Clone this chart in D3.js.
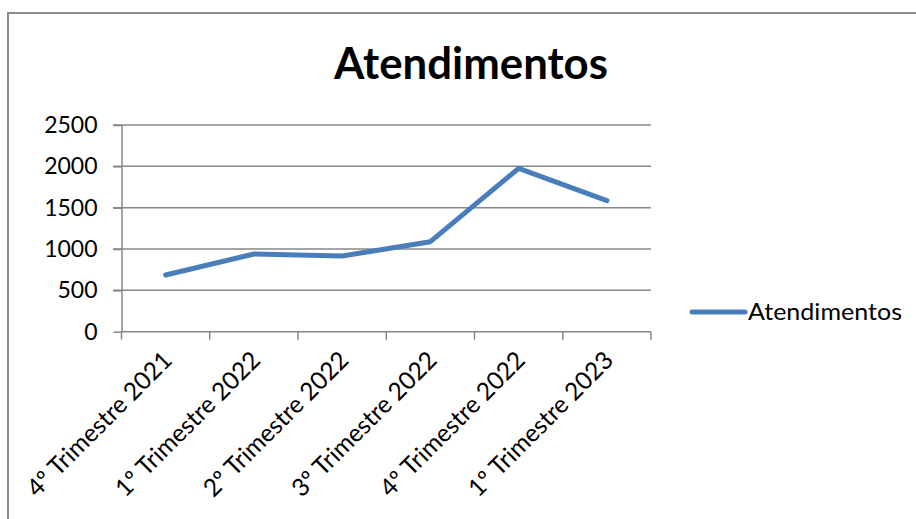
<!DOCTYPE html>
<html>
<head>
<meta charset="utf-8">
<script src="https://cdn.jsdelivr.net/npm/d3@7"></script>
<style>
  html, body { margin: 0; padding: 0; background: #fff; }
  svg { display: block; }
  text { font-family: Lato, "Open Sans", sans-serif; fill: #000; }
</style>
</head>
<body>
<svg id="chart" width="916" height="519"></svg>
<script>
// dados
const categories = [
  '4º Trimestre 2021', '1º Trimestre 2022', '2º Trimestre 2022',
  '3º Trimestre 2022', '4º Trimestre 2022', '1º Trimestre 2023'
];
const values = [686, 940, 915, 1089, 1976, 1585];
const yTicks = [0, 500, 1000, 1500, 2000, 2500];
const seriesName = 'Atendimentos';

const GRID = '#878787';
const BLUE = '#4a7ebb';

const svg = d3.select('#chart');

// moldura do gráfico
svg.append('rect')
  .attr('x', 8).attr('y', 13)
  .attr('width', 1000).attr('height', 600)
  .attr('fill', 'none')
  .attr('stroke', '#8c8c8c')
  .attr('stroke-width', 2);

// título
svg.append('text')
  .attr('x', 471).attr('y', 79)
  .attr('text-anchor', 'middle')
  .attr('font-size', 44)
  .attr('font-weight', 'bold')
  .attr('textLength', 274)
  .attr('lengthAdjust', 'spacingAndGlyphs')
  .text(seriesName);

// escalas
const x = d3.scaleBand().domain(categories).range([121.5, 651]);
const y = d3.scaleLinear().domain([0, 2500]).range([331.7, 125]);

// grade horizontal
svg.append('g')
  .selectAll('line')
  .data(yTicks.filter(d => d > 0))
  .join('line')
  .attr('x1', 113).attr('x2', 651)
  .attr('y1', d => y(d)).attr('y2', d => y(d))
  .attr('stroke', GRID)
  .attr('stroke-width', 1.5);

// eixo Y
const yAxis = svg.append('g')
  .attr('transform', `translate(${x.range()[0]},0)`)
  .call(d3.axisLeft(y).tickValues(yTicks).tickFormat(d3.format('d'))
    .tickSize(8).tickPadding(16).tickSizeOuter(0));
yAxis.select('.domain').attr('stroke', GRID).attr('stroke-width', 1.5);
yAxis.selectAll('.tick line').attr('stroke', GRID).attr('stroke-width', 1.5);
yAxis.selectAll('.tick text')
  .attr('font-family', 'Lato, sans-serif')
  .attr('font-size', 23)
  .attr('fill', '#000');

// eixo X (marcas nas fronteiras das categorias)
const xg = svg.append('g').attr('transform', `translate(0,${y(0)})`);
xg.append('line')
  .attr('x1', x.range()[0]).attr('x2', x.range()[1])
  .attr('stroke', GRID).attr('stroke-width', 1.5);
const bounds = categories.map(c => x(c)).concat([x.range()[1]]);
xg.selectAll('line.tk')
  .data(bounds)
  .join('line')
  .attr('class', 'tk')
  .attr('x1', d => d).attr('x2', d => d)
  .attr('y1', 0).attr('y2', 8)
  .attr('stroke', GRID).attr('stroke-width', 1.5);
xg.selectAll('text')
  .data(categories)
  .join('text')
  .attr('transform', d => `translate(${x(d) + x.bandwidth() / 2 + 8},${30}) rotate(-45)`)
  .attr('text-anchor', 'end')
  .attr('font-size', 24.5)
  .text(d => d);

// linha da série
const line = d3.line()
  .x((d, i) => x(categories[i]) + x.bandwidth() / 2)
  .y(d => y(d));
svg.append('path')
  .datum(values)
  .attr('d', line)
  .attr('fill', 'none')
  .attr('stroke', BLUE)
  .attr('stroke-width', 5)
  .attr('stroke-linejoin', 'round')
  .attr('stroke-linecap', 'round');

// legenda
const lg = svg.append('g').attr('transform', 'translate(692,312)');
lg.append('line')
  .attr('x1', 0).attr('x2', 53)
  .attr('stroke', BLUE).attr('stroke-width', 5)
  .attr('stroke-linecap', 'round');
lg.append('text')
  .attr('x', 56).attr('y', 8)
  .attr('font-size', 24)
  .attr('textLength', 154)
  .attr('lengthAdjust', 'spacingAndGlyphs')
  .text(seriesName);
</script>
</body>
</html>
